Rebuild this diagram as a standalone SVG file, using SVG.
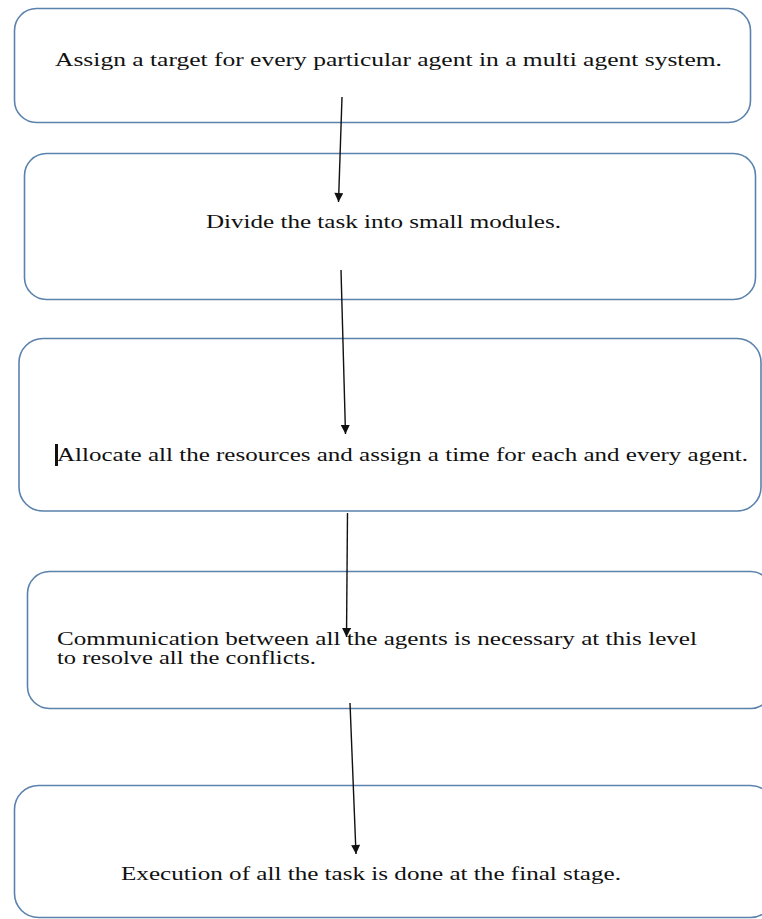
<svg xmlns="http://www.w3.org/2000/svg" width="762" height="919" viewBox="0 0 762 919">
<style>
.box{fill:#ffffff;stroke:#5a82ad;stroke-width:1.6}
.t{font-family:"Liberation Serif","Times New Roman",serif;font-size:19px;fill:#111111}
.c{stroke:#111111;stroke-width:1.4;fill:none;marker-end:url(#ah)}
</style>
<defs>
<marker id="ah" viewBox="0 0 10 10" refX="10" refY="5" markerWidth="11" markerHeight="9" markerUnits="userSpaceOnUse" orient="auto">
<path d="M0,0 L10,5 L0,10 z" fill="#111111"/>
</marker>
</defs>
<rect width="762" height="919" fill="#ffffff"/>
<g id="n1">
<rect class="box" x="14.5" y="8.5" width="736" height="114" rx="22" ry="22"/>
<text class="t" x="55" y="66" textLength="667" lengthAdjust="spacingAndGlyphs">Assign a target for every particular agent in a multi agent system.</text>
</g>
<g id="n2">
<rect class="box" x="24.5" y="153.5" width="731" height="146" rx="22" ry="22"/>
<text class="t" x="206" y="228" textLength="355" lengthAdjust="spacingAndGlyphs">Divide the task into small modules.</text>
</g>
<g id="n3">
<rect class="box" x="19" y="338.5" width="742" height="172.5" rx="24" ry="24"/>
<rect x="55" y="444" width="3" height="22" fill="#111111"/>
<text class="t" x="57" y="461" textLength="691" lengthAdjust="spacingAndGlyphs">Allocate all the resources and assign a time for each and every agent.</text>
</g>
<g id="n4">
<rect class="box" x="27.5" y="571.5" width="745" height="137" rx="22" ry="22"/>
<text class="t" x="57" y="645" textLength="640" lengthAdjust="spacingAndGlyphs">Communication between all the agents is necessary at this level</text>
<text class="t" x="57" y="664" textLength="259" lengthAdjust="spacingAndGlyphs">to resolve all the conflicts.</text>
</g>
<g id="n5">
<rect class="box" x="14.5" y="785.5" width="760" height="132" rx="24" ry="24"/>
<text class="t" x="121" y="880" textLength="500" lengthAdjust="spacingAndGlyphs">Execution of all the task is done at the final stage.</text>
</g>
<g id="connectors">
<line class="c" x1="342" y1="97" x2="338.5" y2="202"/>
<line class="c" x1="341" y1="270" x2="345.5" y2="434"/>
<line class="c" x1="347.5" y1="513" x2="346.5" y2="637"/>
<line class="c" x1="350" y1="703" x2="356" y2="854"/>
</g>
</svg>
